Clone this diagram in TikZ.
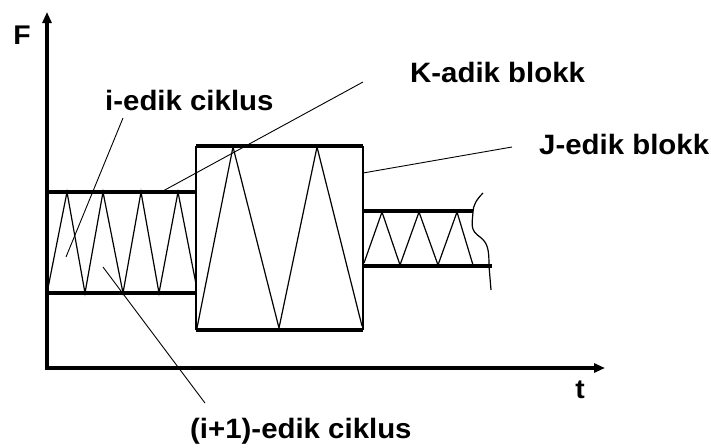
\documentclass[tikz,border=0pt]{standalone}
\usepackage{fontspec}
\setmainfont{Liberation Sans}
\newfontfamily\lblfont{Liberation Sans}[FakeStretch=1.05]
\usetikzlibrary{arrows.meta}
\begin{document}
\begin{tikzpicture}[x=1pt,y=-1pt,
  thickline/.style={line width=3.8pt},
  thinline/.style={line width=1.2pt},
  leader/.style={line width=0.9pt},
  lbl/.style={font=\lblfont\fontsize{28}{32}\selectfont\bfseries, inner sep=0pt, anchor=base west},
  axlbl/.style={font=\lblfont\fontsize{27}{30}\selectfont\bfseries, inner sep=0pt},
  axis/.style={line width=3.2pt, {Triangle[length=11pt,width=9pt]}-{Triangle[length=11pt,width=9pt]}}]
\useasboundingbox (0,0) rectangle (711,447);
% axes
\coordinate (O) at (47,368);
\coordinate (Ftip) at (47,12);
\coordinate (ttip) at (605,368);
\draw[axis] (Ftip) -- (O) -- (ttip);
\node[axlbl] (F) at (22,35) {F};
\node[axlbl] (t) at (580,390) {t};
% block 1
\draw[thickline] (47,192) -- (196,192);
\draw[thickline] (47,293) -- (196,293);
\draw[thinline] (196,192) -- (196,293);
\draw[thinline] (48,288) -- (67,192) -- (85,293) -- (103,192) -- (123,293) -- (141,192) -- (159,293) -- (178,192) -- (196,284);
% block 2
\draw[thickline] (196,146) -- (363,146);
\draw[thickline] (196,330) -- (363,330);
\draw[thinline] (196,146) -- (196,330);
\draw[thinline] (363,146) -- (363,330);
\draw[thinline] (197,328) -- (233,147) -- (279,328) -- (317,147) -- (362,326);
% block 3
\draw[thickline] (363,211) -- (473,211);
\draw[thickline] (363,266) -- (492,266);
\draw[thinline] (364,263) -- (382,212) -- (400,265) -- (419,212) -- (438,265) -- (457,212) -- (473,265);
\draw[thinline] (483,193) .. controls (476,200) and (473,206) .. (473,212)
  .. controls (472,225) and (470,230) .. (480,237)
  .. controls (488,243) and (489,250) .. (489,266) -- (491,290);
% labels
\node[lbl] (icik) at (105,110) {i-edik ciklus};
\node[lbl] (kblk) at (410,82) {K-adik blokk};
\node[lbl] (jblk) at (539,154) {J-edik blokk};
\node[lbl] (i1cik) at (190,438) {(i+1)-edik ciklus};
% leader ends
\coordinate (a1) at (123,118);
\coordinate (a2) at (66,257);
\coordinate (b1) at (363,82);
\coordinate (b2) at (163,191);
\coordinate (c1) at (512,147);
\coordinate (c2) at (363,173);
\coordinate (d1) at (103,267);
\coordinate (d2) at (205,403);
\draw[leader] (a1) -- (a2);
\draw[leader] (b1) -- (b2);
\draw[leader] (c1) -- (c2);
\draw[leader] (d1) -- (d2);
\end{tikzpicture}
\end{document}
